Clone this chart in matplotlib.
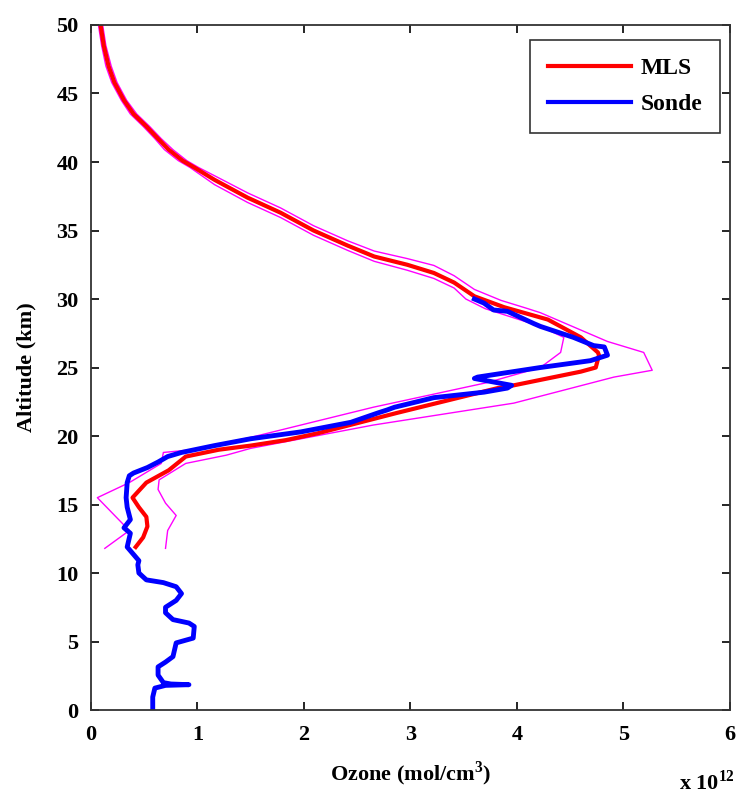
import matplotlib
matplotlib.use("Agg")
import matplotlib.pyplot as plt

# Ozone number density in units of 1e12 mol/cm^3, altitude in km
mls_alt = [50, 48.5, 47, 45.8, 44.5, 43.5, 42.6, 41.7, 40.9, 40.1, 39.6, 38.7, 37.4, 36.3,
           35.0, 33.9, 33.1, 32.5, 31.9, 31.2, 30.2, 29.4, 28.5, 27.2, 26.1, 25.9, 25.0,
           24.7, 23.7, 23.5, 21.7, 20.2, 19.7, 19.3, 19.0, 18.5, 17.5, 16.6, 15.5, 14.8,
           14.1, 13.4, 12.6, 11.9]
mls_o3 = [0.09, 0.12, 0.165, 0.22, 0.31, 0.40, 0.52, 0.63, 0.73, 0.86, 0.97, 1.16, 1.47, 1.78,
          2.09, 2.41, 2.66, 2.97, 3.22, 3.41, 3.60, 3.88, 4.29, 4.60, 4.76, 4.77, 4.74,
          4.60, 3.97, 3.82, 2.88, 2.13, 1.83, 1.50, 1.20, 0.89, 0.73, 0.52, 0.39, 0.45,
          0.52, 0.53, 0.49, 0.42]

hi_alt = [50, 48.5, 47, 45.8, 44.5, 43.5, 42.6, 41.7, 40.9, 40.1, 39.6, 39.0, 37.75, 36.65,
          35.35, 34.25, 33.5, 32.95, 32.45, 31.7, 30.7, 29.9, 29.3, 29.0, 26.9, 26.1, 24.8,
          24.3, 22.4, 20.8, 19.1, 18.6, 18.0, 16.8, 16.1, 15.1, 14.2, 13.1, 11.8]
hi_o3 = [0.11, 0.14, 0.19, 0.245, 0.335, 0.43, 0.55, 0.66, 0.77, 0.90, 1.01, 1.16, 1.47, 1.78,
         2.09, 2.41, 2.66, 2.97, 3.22, 3.41, 3.60, 3.85, 4.10, 4.22, 4.85, 5.19, 5.27,
         4.91, 3.97, 2.65, 1.50, 1.27, 0.89, 0.64, 0.63, 0.70, 0.80, 0.72, 0.70]

lo_alt = [50, 48.5, 47, 45.8, 44.5, 43.5, 42.6, 41.7, 40.9, 40.1, 39.6, 38.35, 37.05, 35.95,
          34.65, 33.55, 32.75, 32.1, 31.5, 30.8, 30.0, 29.3, 28.0, 27.2, 26.1, 25.0, 23.9,
          22.1, 19.9, 19.0, 18.8, 18.0, 16.6, 15.5, 13.9, 13.1, 11.8]
lo_o3 = [0.07, 0.10, 0.14, 0.195, 0.285, 0.37, 0.49, 0.60, 0.69, 0.82, 0.93, 1.16, 1.47, 1.78,
         2.09, 2.41, 2.66, 2.97, 3.22, 3.41, 3.52, 3.70, 4.22, 4.44, 4.41, 4.22, 3.72,
         2.65, 1.50, 0.95, 0.68, 0.66, 0.36, 0.06, 0.26, 0.36, 0.13]

sonde_alt = [0.0, 0.95, 1.6, 1.8, 1.85, 1.9, 2.0, 2.55, 3.15, 3.5, 3.9, 4.9, 5.25, 6.1, 6.35,
             6.6, 7.1, 7.5, 8.0, 8.5, 9.0, 9.3, 9.5, 10.0, 10.6, 10.9, 11.9, 12.9, 13.3,
             13.9, 14.8, 15.5, 16.6, 17.1, 17.3, 17.7, 18.1, 18.5, 18.8, 19.3, 19.8, 20.3,
             21.0, 21.7, 21.9, 22.1, 22.8, 23.2, 23.5, 23.7, 24.2, 24.3, 25.0, 25.5, 25.9,
             26.5, 26.6, 27.2, 28.0, 28.2, 29.1, 29.2, 29.7, 30.0]
sonde_o3 = [0.58, 0.58, 0.60, 0.70, 0.92, 0.75, 0.68, 0.63, 0.63, 0.70, 0.77, 0.80, 0.96, 0.97,
            0.92, 0.77, 0.70, 0.70, 0.80, 0.85, 0.80, 0.68, 0.52, 0.45, 0.44, 0.45, 0.34,
            0.37, 0.31, 0.37, 0.34, 0.33, 0.34, 0.36, 0.40, 0.53, 0.63, 0.72, 0.85, 1.16,
            1.50, 1.97, 2.44, 2.70, 2.78, 2.85, 3.22, 3.69, 3.91, 3.95, 3.60, 3.63, 4.22,
            4.69, 4.85, 4.82, 4.72, 4.53, 4.22, 4.16, 3.91, 3.78, 3.69, 3.60]

xticks = [0, 1, 2, 3, 4, 5, 6]
yticks = [0, 5, 10, 15, 20, 25, 30, 35, 40, 45, 50]

plt.rcParams['font.family'] = ['Liberation Serif', 'DejaVu Serif']
plt.rcParams['font.weight'] = 'bold'
plt.rcParams['mathtext.fontset'] = 'custom'
plt.rcParams['mathtext.bf'] = 'Liberation Serif:bold'
plt.rcParams['mathtext.rm'] = 'Liberation Serif:bold'

fig = plt.figure(figsize=(7.36, 7.96), dpi=100)
ax = fig.add_axes([0.1236, 0.108, 0.8682, 0.8606])

ax.plot(hi_o3, hi_alt, color=(1, 0, 1), lw=1.0)
ax.plot(lo_o3, lo_alt, color=(1, 0, 1), lw=1.0)
ax.plot(mls_o3, mls_alt, color=(1, 0, 0), lw=3.0, label='MLS')
ax.plot(sonde_o3, sonde_alt, color=(0, 0, 1), lw=3.5, label='Sonde')

ax.set_xlim(0, 6)
ax.set_ylim(0, 50)
ax.set_xticks(xticks)
ax.set_yticks(yticks)
ax.tick_params(axis='both', direction='in', top=True, right=True, length=6, width=1.2,
               labelsize=16)
ax.tick_params(axis='x', pad=11)
ax.tick_params(axis='y', pad=9)
for lab in ax.get_xticklabels() + ax.get_yticklabels():
    lab.set_fontweight('bold')
for s in ax.spines.values():
    s.set_linewidth(1.3)
    s.set_color('#333333')

ax.set_xlabel('Ozone (mol/cm$^{3}$)', fontsize=16, fontweight='bold', labelpad=10)
ax.set_ylabel('Altitude (km)', fontsize=16, fontweight='bold', labelpad=14)
fig.text(0.9985, 1 - 790 / 796, 'x 10$^{12}$', ha='right', va='baseline',
         fontsize=16, fontweight='bold')

leg = ax.legend(loc='upper right', bbox_to_anchor=(0.984, 0.978), borderaxespad=0.0,
                frameon=True, fancybox=False, handlelength=3.5, handletextpad=0.4,
                borderpad=0.75, labelspacing=0.6,
                prop={'weight': 'bold', 'size': 17})
leg.get_frame().set_edgecolor('black')
leg.get_frame().set_linewidth(1.2)
for line in leg.get_lines():
    line.set_linewidth(3)

fig.savefig('out.png', dpi=100)
